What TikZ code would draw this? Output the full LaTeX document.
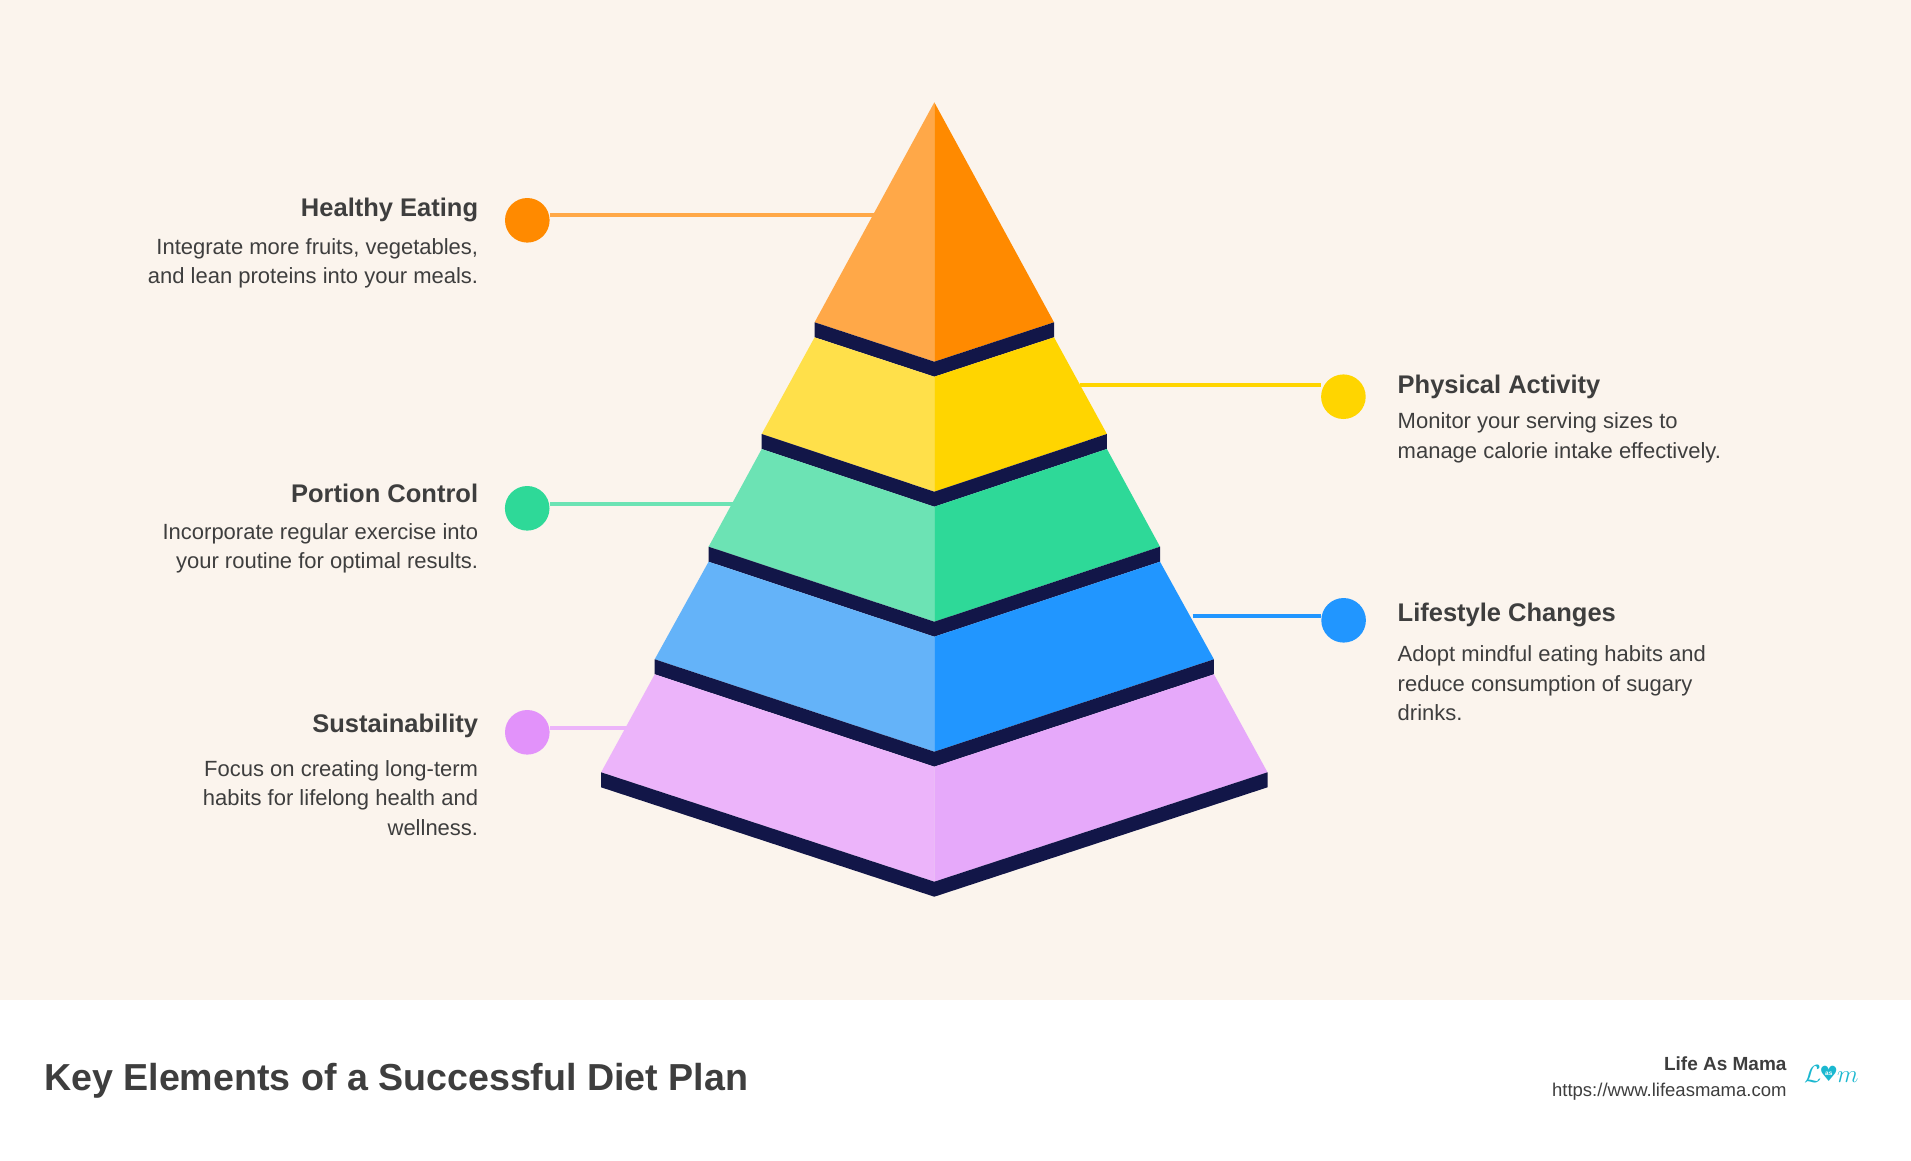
\documentclass[tikz,border=0pt]{standalone}
\usepackage{fontspec}
\setmainfont{Liberation Sans}
\newfontfamily\dejavu{DejaVu Sans}
\definecolor{bg}{RGB}{251,244,237}
\definecolor{txt}{RGB}{62,62,62}
\definecolor{band}{RGB}{18,22,72}
\definecolor{orL}{RGB}{255,168,72}
\definecolor{orR}{RGB}{255,138,0}
\definecolor{yeL}{RGB}{255,224,74}
\definecolor{yeR}{RGB}{255,213,0}
\definecolor{grL}{RGB}{108,227,180}
\definecolor{grR}{RGB}{46,217,152}
\definecolor{blL}{RGB}{100,179,249}
\definecolor{blR}{RGB}{33,150,255}
\definecolor{piL}{RGB}{236,180,250}
\definecolor{piR}{RGB}{230,169,250}
\definecolor{piDot}{RGB}{226,146,250}
\definecolor{logo}{RGB}{27,184,208}
\tikzset{
  ttl/.style={font=\bfseries\fontsize{25.5}{30}\selectfont, text=txt, inner sep=0pt},
  bodytxt/.style={font=\fontsize{22}{29.6}\selectfont, text=txt, inner sep=0pt},
  dot/.style={circle, minimum size=44.6pt, inner sep=0pt},
  link/.style={line width=4pt},
}
\begin{document}
\begin{tikzpicture}[x=1pt,y=-1pt]
\useasboundingbox (0,0) rectangle (1911,1160);
\fill[bg] (0,0) rectangle (1911,1000);
\fill[white] (0,1000) rectangle (1911,1160);
% pyramid
% tier 0
\fill[orL] (934.3,102.3) -- (814.6,322.3) -- (934.3,361.7) -- cycle;
\fill[orR] (934.3,102.3) -- (1054,322.3) -- (934.3,361.7) -- cycle;
\fill[band] (814.6,322.3) -- (934.3,361.7) -- (1054,322.3) -- (1054,337.3) -- (934.3,376.7) -- (814.6,337.3) -- cycle;
% tier 1
\fill[yeL] (814.6,337.3) -- (934.3,376.7) -- (934.3,491.7) -- (761.7,434) -- cycle;
\fill[yeR] (1054,337.3) -- (934.3,376.7) -- (934.3,491.7) -- (1106.9,434) -- cycle;
\fill[band] (761.7,434) -- (934.3,491.7) -- (1106.9,434) -- (1106.9,449) -- (934.3,506.7) -- (761.7,449) -- cycle;
% tier 2
\fill[grL] (761.7,449) -- (934.3,506.7) -- (934.3,621.7) -- (708.6,546.7) -- cycle;
\fill[grR] (1106.9,449) -- (934.3,506.7) -- (934.3,621.7) -- (1160,546.7) -- cycle;
\fill[band] (708.6,546.7) -- (934.3,621.7) -- (1160,546.7) -- (1160,561.7) -- (934.3,636.7) -- (708.6,561.7) -- cycle;
% tier 3
\fill[blL] (708.6,561.7) -- (934.3,636.7) -- (934.3,751.7) -- (654.7,659.3) -- cycle;
\fill[blR] (1160,561.7) -- (934.3,636.7) -- (934.3,751.7) -- (1213.9,659.3) -- cycle;
\fill[band] (654.7,659.3) -- (934.3,751.7) -- (1213.9,659.3) -- (1213.9,674.3) -- (934.3,766.7) -- (654.7,674.3) -- cycle;
% tier 4
\fill[piL] (654.7,674.3) -- (934.3,766.7) -- (934.3,881.7) -- (601.1,772.3) -- cycle;
\fill[piR] (1213.9,674.3) -- (934.3,766.7) -- (934.3,881.7) -- (1267.5,772.3) -- cycle;
\fill[band] (601.1,772.3) -- (934.3,881.7) -- (1267.5,772.3) -- (1267.5,787.3) -- (934.3,896.7) -- (601.1,787.3) -- cycle;

% dots
\node[dot, fill=orR] (d1) at (527.3,220.3) {};
\node[dot, fill=grR] (d2) at (527.2,508.3) {};
\node[dot, fill=piDot] (d3) at (527.3,732.3) {};
\node[dot, fill=yeR] (d4) at (1343.4,396.7) {};
\node[dot, fill=blR] (d5) at (1343.6,620.3) {};
% connector ends
\coordinate (e1) at (879,215);
\coordinate (e2) at (739,503.7);
\coordinate (e3) at (630,727.7);
\coordinate (e4) at (1080,385.3);
\coordinate (e5) at (1192.5,615.7);
\draw[link, orL] (e1) -- (e1 -| d1.east);
\draw[link, grL] (e2) -- (e2 -| d2.east);
\draw[link, piL] (e3) -- (e3 -| d3.east);
\draw[link, yeR] (e4) -- (e4 -| d4.west);
\draw[link, blR] (e5) -- (e5 -| d5.west);

% left texts (base anchor = baseline of last line)
\node[ttl, anchor=base east] (t1) at (478.3,216.7) {Healthy Eating};
\node[bodytxt, anchor=base east, align=right] (b1) at (478.3,283.8) {Integrate more fruits, vegetables,\\and lean proteins into your meals.};
\node[ttl, anchor=base east] (t2) at (478.3,502.3) {Portion Control};
\node[bodytxt, anchor=base east, align=right] (b2) at (478.3,568.8) {Incorporate regular exercise into\\your routine for optimal results.};
\node[ttl, anchor=base east] (t3) at (478.3,732.3) {Sustainability};
\node[bodytxt, anchor=base east, align=right] (b3) at (478.3,835.4) {Focus on creating long-term\\habits for lifelong health and\\wellness.};
% right texts
\node[ttl, anchor=base west] (t4) at (1397.5,393.3) {Physical Activity};
\node[bodytxt, anchor=base west, align=left] (b4) at (1397.5,458.1) {Monitor your serving sizes to\\manage calorie intake effectively.};
\node[ttl, anchor=base west] (t5) at (1397.5,621.7) {Lifestyle Changes};
\node[bodytxt, anchor=base west, align=left] (b5) at (1397.5,720.9) {Adopt mindful eating habits and\\reduce consumption of sugary\\drinks.};

% footer
\node[font=\bfseries\fontsize{37.6}{42}\selectfont, text=txt, inner sep=0pt, anchor=base west] (ft) at (43.9,1090) {Key Elements of a Successful Diet Plan};
\node[font=\bfseries\fontsize{19}{22}\selectfont, text=txt, inner sep=0pt, anchor=base east] (brand) at (1786.7,1070) {Life As Mama};
\node[font=\fontsize{18.5}{22}\selectfont, text=txt, inner sep=0pt, anchor=base east] (url) at (1786.7,1096.7) {https://www.lifeasmama.com};
% logo
\node[text=logo, inner sep=0pt, anchor=base west] (logo) at (1804,1082)
  {\fontsize{38}{38}\selectfont$\mathcal{L}$\kern-2pt\raisebox{1pt}{\ooalign{\dejavu\fontsize{21}{21}\selectfont ♥\cr\hidewidth\raisebox{5.5pt}{\textcolor{white}{\bfseries\fontsize{6.5}{6.5}\selectfont as}}\hidewidth\cr}}\kern-1pt\fontsize{38}{38}\selectfont$m$};
\end{tikzpicture}
\end{document}
